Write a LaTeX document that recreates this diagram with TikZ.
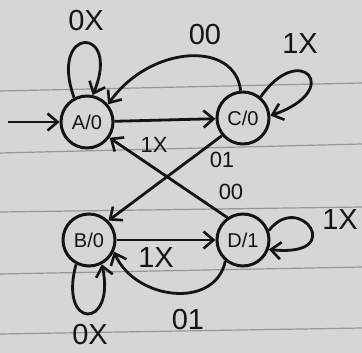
\documentclass[tikz,border=0pt]{standalone}
\usepackage{fontspec}
\setmainfont{Liberation Sans}
\usetikzlibrary{arrows.meta}
\definecolor{paper}{RGB}{214,214,214}
\definecolor{rule}{RGB}{150,150,150}
\definecolor{ink}{RGB}{20,20,20}
\begin{document}
\begin{tikzpicture}[x=1pt,y=-1pt,
  state/.style={circle,draw=ink,line width=3pt,minimum size=52pt,inner sep=0pt,text=ink,font=\fontsize{20}{22}\selectfont},
  edge/.style={draw=ink,line width=2.8pt,-{Straight Barb[length=10pt,width=17pt,line width=2.6pt]}},
  lbl/.style={inner sep=0pt,text=ink,font=\fontsize{29}{30}\selectfont},
  slbl/.style={inner sep=0pt,text=ink,font=\fontsize{22}{24}\selectfont},
  paperline/.style={draw=rule,line width=1.2pt}]
\fill[paper] (0,0) rectangle (362,353);
\useasboundingbox (0,0) rectangle (362,353);
\draw[paperline] (0,91) -- (362,83);
\draw[paperline] (0,153) -- (362,144);
\draw[paperline] (0,212) -- (362,207);
\draw[paperline] (0,274) -- (362,267);
\draw[paperline] (0,334) -- (362,328);

\node[state] (A) at (87,122) {A/0};
\node[state] (C) at (243,118) {C/0};
\node[state] (B) at (89,240) {B/0};
\node[state] (D) at (243,240) {D/1};

\coordinate (start) at (8,122);
\draw[edge] (start) -- (A);

% self loops
\draw[edge] (A.118) .. controls (48,25) and (122,25) .. (A.78);
\draw[edge] (C.50) .. controls (300,40) and (345,90) .. (C.5);
\draw[edge] (B.-118) .. controls (58,330) and (116,330) .. (B.-62);
\draw[edge] (D.20) .. controls (300,190) and (348,258) .. (D.-20);

% transitions
\draw[edge] (C.95) .. controls (235,40) and (150,45) .. (A.40);
\draw[edge] (A) -- (C);
\draw[edge] (D.125) -- (A.-35);
\draw[edge] (C.-140) -- (B.45);
\draw[edge] (B) -- (D);
\draw[edge] (D.-130) .. controls (215,310) and (135,300) .. (B.-25);

% labels
\node[lbl] (l1) at (86,21) {0X};
\node[lbl] (l2) at (205,35) {00};
\node[lbl] (l3) at (300,44) {1X};
\node[slbl] (l4) at (154,145) {1X};
\node[slbl] (l5) at (222,160) {01};
\node[slbl] (l6) at (231,192) {00};
\node[lbl] (l7) at (340,220) {1X};
\node[lbl] (l8) at (156,258) {1X};
\node[lbl] (l9) at (188,320) {01};
\node[lbl] (l10) at (90,335) {0X};
\end{tikzpicture}
\end{document}
